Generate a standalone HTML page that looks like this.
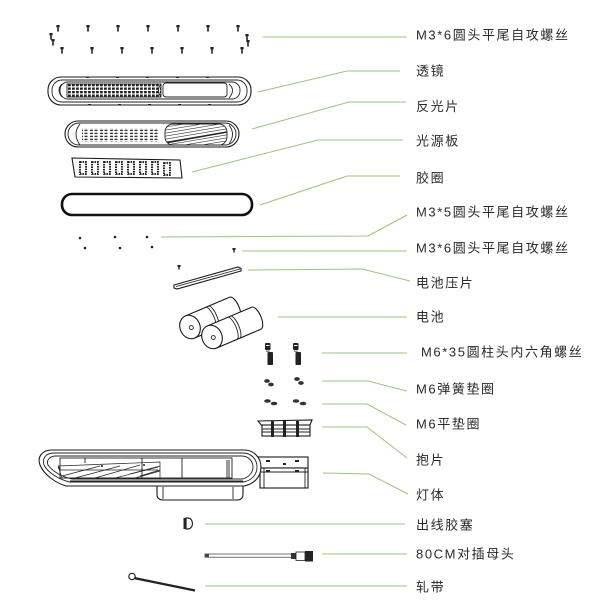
<!DOCTYPE html>
<html>
<head>
<meta charset="utf-8">
<style>
  html,body{margin:0;padding:0;background:#fff;}
  body{width:606px;height:609px;overflow:hidden;}
  svg{display:block;}
  .lbl{font-family:"Liberation Sans","Noto Sans CJK SC",sans-serif;font-size:13px;letter-spacing:1.6px;fill:#2a2a2a;}
  .ld{stroke:#9cc47c;stroke-width:1;fill:none;}
  .k{stroke:#222;fill:none;stroke-width:0.9;}
  .kw{stroke:#1a1a1a;fill:#fff;stroke-width:1.1;}
</style>
</head>
<body>
<svg width="606" height="609" viewBox="0 0 606 609" xmlns="http://www.w3.org/2000/svg">
  <defs>
    <pattern id="lg" width="4" height="3.5" patternUnits="userSpaceOnUse">
      <rect x="0" y="0" width="2.8" height="2.3" fill="#222"/>
    </pattern>
    <pattern id="rd" width="10" height="3" patternUnits="userSpaceOnUse">
      <rect x="0" y="0.7" width="3" height="1.4" fill="#333"/>
      <rect x="4.5" y="0.7" width="3" height="1.4" fill="#333"/>
    </pattern>
    <clipPath id="rh"><rect x="165" y="124" width="62" height="21" rx="8"/></clipPath>
    <g id="s1"><rect x="-1.6" y="0" width="3.2" height="2.4"/><rect x="-0.8" y="2.4" width="1.6" height="4.2"/></g>
  </defs>

  <!-- ============ leader lines ============ -->
  <polyline class="ld" points="263,37 407,37"/>
  <polyline class="ld" points="258,92 347,71 400,71"/>
  <polyline class="ld" points="252,129 349,102 406,102"/>
  <polyline class="ld" points="192,172 318,140 403,140"/>
  <polyline class="ld" points="260,205 347,176 400,176"/>
  <polyline class="ld" points="161,237 368,236 407,215"/>
  <polyline class="ld" points="242,251 407,251"/>
  <polyline class="ld" points="248,270 362,269 410,281"/>
  <polyline class="ld" points="278,317 407,317"/>
  <polyline class="ld" points="322,353 407,353"/>
  <polyline class="ld" points="322,381 368,381 407,391"/>
  <polyline class="ld" points="322,404 367,404 406,425"/>
  <polyline class="ld" points="322,427 367,427 407,458"/>
  <polyline class="ld" points="323,473 369,474 408,494"/>
  <polyline class="ld" points="205,524 405,524"/>
  <polyline class="ld" points="322,554 407,554"/>
  <polyline class="ld" points="205,586 407,586"/>

  <!-- ============ labels ============ -->
  <text class="lbl" x="416" y="39.5">M3*6圆头平尾自攻螺丝</text>
  <text class="lbl" x="416" y="75.5">透镜</text>
  <text class="lbl" x="416" y="111">反光片</text>
  <text class="lbl" x="416" y="145.5">光源板</text>
  <text class="lbl" x="416" y="182.5">胶圈</text>
  <text class="lbl" x="416" y="216.5">M3*5圆头平尾自攻螺丝</text>
  <text class="lbl" x="416" y="252.5">M3*6圆头平尾自攻螺丝</text>
  <text class="lbl" x="416" y="287.5">电池压片</text>
  <text class="lbl" x="416" y="321.5">电池</text>
  <text class="lbl" x="421" y="356.5">M6*35圆柱头内六角螺丝</text>
  <text class="lbl" x="416" y="393.5">M6弹簧垫圈</text>
  <text class="lbl" x="416" y="428.5">M6平垫圈</text>
  <text class="lbl" x="416" y="464.5">抱片</text>
  <text class="lbl" x="416" y="499.5">灯体</text>
  <text class="lbl" x="416" y="529.5">出线胶塞</text>
  <text class="lbl" x="416" y="558.5">80CM对插母头</text>
  <text class="lbl" x="416" y="591.5">轧带</text>

  <!-- ============ top screws ============ -->
  <g fill="#222">
    <use href="#s1" x="58" y="25"/><use href="#s1" x="88" y="25"/><use href="#s1" x="118" y="25"/>
    <use href="#s1" x="148" y="25"/><use href="#s1" x="178" y="25"/><use href="#s1" x="208" y="25"/>
    <use href="#s1" x="238" y="25"/>
    <use href="#s1" x="62" y="47"/><use href="#s1" x="92" y="47"/><use href="#s1" x="122" y="47"/>
    <use href="#s1" x="152" y="47"/><use href="#s1" x="182" y="47"/><use href="#s1" x="212" y="47"/>
    <use href="#s1" x="242" y="47"/>
    <use href="#s1" x="51" y="33"/><use href="#s1" x="53" y="39"/>
    <use href="#s1" x="247" y="34"/><use href="#s1" x="248" y="40"/>
  </g>

  <!-- ============ lens 透镜 ============ -->
  <rect class="kw" x="48" y="77" width="203" height="28" rx="13" stroke-width="1.3"/>
  <rect class="k" x="52" y="80" width="195" height="22" rx="10" stroke-width="0.7"/>
  <rect class="k" x="60" y="82" width="180" height="17" rx="8"/>
  <rect x="67" y="84" width="94" height="13" fill="url(#lg)"/>
  <rect class="k" x="67" y="84" width="94" height="13" stroke-width="0.7"/>
  <rect class="k" x="163" y="83" width="64" height="14" rx="3" stroke-width="1.1"/>
  <path class="k" d="M161,84 Q156,90 161,97"/>
  <path class="k" d="M229,84 Q236,90 229,98"/>
  <path class="k" d="M62,84 Q56,90 62,97"/>
  <g fill="#222">
    <rect x="86" y="76.5" width="3" height="1.5"/><rect x="116" y="76.5" width="3" height="1.5"/>
    <rect x="146" y="76.5" width="3" height="1.5"/><rect x="176" y="76.5" width="3" height="1.5"/>
    <rect x="206" y="76.5" width="3" height="1.5"/>
    <rect x="88" y="104" width="3" height="1.5"/><rect x="118" y="104" width="3" height="1.5"/>
    <rect x="148" y="104" width="3" height="1.5"/><rect x="178" y="104" width="3" height="1.5"/>
    <rect x="208" y="104" width="3" height="1.5"/>
  </g>

  <!-- ============ reflector 反光片 ============ -->
  <rect class="kw" x="65" y="121" width="174" height="26" rx="13" stroke-width="1.2"/>
  <rect class="k" x="68" y="123" width="168" height="22" rx="11" stroke-width="0.7"/>
  <path class="k" d="M80,124 Q72,134 80,145"/>
  <rect x="82" y="128" width="78" height="14" fill="url(#rd)"/>
  <rect class="k" x="165" y="124" width="62" height="21" rx="8"/>
  <g clip-path="url(#rh)" stroke="#333" stroke-width="0.6">
    <line x1="160" y1="128" x2="232" y2="116"/>
    <line x1="160" y1="131" x2="232" y2="119"/>
    <line x1="160" y1="134" x2="232" y2="122"/>
    <line x1="160" y1="137" x2="232" y2="125"/>
    <line x1="160" y1="140" x2="232" y2="128"/>
    <line x1="160" y1="143" x2="232" y2="131"/>
    <line x1="160" y1="146" x2="232" y2="134"/>
    <line x1="160" y1="149" x2="232" y2="137"/>
    <line x1="160" y1="152" x2="232" y2="140"/>
    <line x1="160" y1="155" x2="232" y2="143"/>
    <line x1="165" y1="143" x2="227" y2="132" stroke-width="1.6" stroke="#222"/>
  </g>
  <path class="k" d="M229,125 Q236,134 229,144"/>

  <!-- ============ light board 光源板 ============ -->
  <polygon class="kw" points="72,158 180,160 182,178 75,177"/>
  <g fill="none" stroke="#111" stroke-width="1.8" stroke-dasharray="1.6 0.9">
    <rect x="80" y="162" width="6" height="12"/>
    <rect x="92" y="162" width="6" height="12"/>
    <rect x="104" y="162" width="6" height="12"/>
    <rect x="116" y="162" width="6" height="12"/>
    <rect x="128" y="162" width="6" height="12"/>
    <rect x="140" y="162" width="6" height="12"/>
    <rect x="152" y="162" width="6" height="12"/>
    <rect x="164" y="163" width="6" height="12"/>
  </g>

  <!-- ============ gasket 胶圈 ============ -->
  <rect x="62" y="194" width="190" height="21" rx="10" fill="none" stroke="#111" stroke-width="2.6"/>

  <!-- ============ small screws ============ -->
  <g fill="#222">
    <circle cx="80" cy="238" r="1.3"/><circle cx="85" cy="248" r="1.3"/>
    <circle cx="115" cy="237" r="1.3"/><circle cx="120" cy="248" r="1.3"/>
    <circle cx="147" cy="237" r="1.3"/><circle cx="152" cy="247" r="1.3"/>
    <rect x="232.5" y="248" width="3" height="2"/><rect x="233.3" y="250" width="1.4" height="2.5"/>
    <rect x="177.5" y="265" width="3" height="2"/><rect x="178.3" y="267" width="1.4" height="2.5"/>
  </g>

  <!-- ============ battery plate 电池压片 ============ -->
  <polygon class="kw" points="174,285 238,267 241,268.5 241,271 177,289 174,288"/>
  <line class="k" x1="176" y1="286.5" x2="240" y2="269" stroke-width="0.6"/>

  <!-- ============ batteries 电池 ============ -->
  <g transform="translate(190,327) rotate(-23)">
    <path class="kw" d="M0,-12 L48,-12 A5,12 0 0 1 48,12 L0,12 Z"/>
    <path class="k" d="M22,-12 A4,12 0 0 1 22,12"/>
    <path class="k" d="M25,-12 A4,12 0 0 1 25,12" stroke-width="1.2"/>
    <ellipse class="kw" cx="0" cy="0" rx="10" ry="12"/>
    <circle class="k" cx="1" cy="1" r="2"/>
  </g>
  <g transform="translate(212,337) rotate(-23)">
    <path class="kw" d="M0,-12 L48,-12 A5,12 0 0 1 48,12 L0,12 Z"/>
    <path class="k" d="M22,-12 A4,12 0 0 1 22,12"/>
    <path class="k" d="M25,-12 A4,12 0 0 1 25,12" stroke-width="1.2"/>
    <ellipse class="kw" cx="0" cy="0" rx="10" ry="12"/>
    <circle class="k" cx="1" cy="1" r="2"/>
  </g>

  <!-- ============ M6*35 screws ============ -->
  <g fill="#222">
    <rect x="265" y="343" width="5.5" height="7" rx="1"/>
    <rect x="266" y="350.5" width="3.5" height="1.5" fill="#888"/>
    <rect x="267.5" y="352" width="5.5" height="13" rx="0.8"/>
    <rect x="293" y="343" width="5.5" height="7" rx="1"/>
    <rect x="294" y="350.5" width="3.5" height="1.5" fill="#888"/>
    <rect x="295.5" y="352" width="5.5" height="13" rx="0.8"/>
  </g>
  <g fill="#fff">
    <rect x="266" y="345" width="3.5" height="1"/>
    <rect x="294" y="345" width="3.5" height="1"/>
  </g>

  <!-- ============ spring washers ============ -->
  <g fill="#333">
    <ellipse cx="267" cy="381" rx="2.8" ry="1.9"/><ellipse cx="271" cy="384.5" rx="2.8" ry="1.9"/>
    <ellipse cx="297" cy="379" rx="2.8" ry="1.9"/><ellipse cx="301" cy="383" rx="2.8" ry="1.9"/>
  </g>
  <!-- ============ flat washers ============ -->
  <g fill="#333">
    <ellipse cx="267.5" cy="401" rx="3.3" ry="1.8"/><ellipse cx="274" cy="403.5" rx="3.3" ry="1.8"/>
    <ellipse cx="296" cy="401" rx="3.3" ry="1.8"/><ellipse cx="303" cy="403.5" rx="3.3" ry="1.8"/>
  </g>

  <!-- ============ hug piece 抱片 ============ -->
  <polygon class="kw" points="258,421 312,420 310,425 262,426"/>
  <rect class="kw" x="262" y="425" width="48" height="11"/>
  <line class="k" x1="262" y1="429" x2="310" y2="429"/>
  <line class="k" x1="262" y1="432" x2="310" y2="432"/>
  <g fill="#222">
    <rect x="271" y="421" width="3" height="16"/>
    <rect x="283" y="421" width="3" height="16"/>
    <rect x="296" y="421" width="3" height="16"/>
  </g>

  <!-- ============ lamp body 灯体 ============ -->
  <rect class="kw" x="252" y="457" width="56" height="11"/>
  <rect class="kw" x="260" y="468" width="48" height="20"/>
  <line class="k" x1="264" y1="468" x2="264" y2="488"/>
  <line class="k" x1="305" y1="468" x2="305" y2="488"/>
  <line class="k" x1="260" y1="472" x2="308" y2="472" stroke-width="0.5"/>
  <g fill="#222">
    <rect x="266" y="460" width="4" height="2"/><rect x="295" y="460" width="4" height="2"/>
    <rect x="266" y="470" width="4" height="2"/><rect x="295" y="470" width="4" height="2"/>
    <rect x="283" y="463" width="3" height="2"/>
  </g>
  <path class="kw" d="M157,484 L157,494 Q157,500 163,500 L237,500 Q243,500 243,494 L243,484"/>
  <line class="k" x1="163" y1="487" x2="163" y2="499"/>
  <line class="k" x1="233" y1="487" x2="233" y2="499"/>
  <path class="kw" d="M52,450 L244,450 C254,450 261,458 261,467 C261,477 254,484 244,486 L66,486 C56,483 44,475 40,465 C37,457 42,450 52,450 Z" stroke-width="1.3"/>
  <path class="k" d="M54,453 L243,453 C251,453 257,459 257,467 C257,475 251,481 243,482 L70,482 C60,480 48,473 44,465 C42,458 46,453 54,453 Z" stroke-width="0.7"/>
  <path class="k" d="M56,456 L242,456 C248,456 253,461 253,467 C253,473 248,478 242,479 L72,479 C62,477 52,471 48,465 C46,460 50,456 56,456 Z" stroke-width="0.6"/>
  <rect class="k" x="60" y="458" width="172" height="20"/>
  <line class="k" x1="85" y1="458" x2="85" y2="463"/>
  <line class="k" x1="142" y1="458" x2="142" y2="478"/>
  <line class="k" x1="182" y1="458" x2="182" y2="478"/>
  <line class="k" x1="227" y1="460" x2="227" y2="478"/>
  <line class="k" x1="229" y1="460" x2="229" y2="478"/>
  <line class="k" x1="70" y1="481" x2="243" y2="481" stroke-width="0.6"/>
  <g stroke="#222" stroke-width="0.7" fill="none">
    <polygon points="58,466 160,462 160,478 62,478"/>
    <line x1="62" y1="476" x2="100" y2="466"/>
    <line x1="75" y1="478" x2="120" y2="466"/>
    <line x1="95" y1="478" x2="140" y2="465"/>
    <line x1="115" y1="478" x2="158" y2="467"/>
    <line x1="135" y1="478" x2="160" y2="471"/>
    <line x1="130" y1="474" x2="160" y2="466"/>
    <line x1="140" y1="476" x2="160" y2="470"/>
    <line x1="60" y1="470" x2="158" y2="470"/>
  </g>
  <g fill="#222">
    <circle cx="59" cy="468" r="1"/><circle cx="102" cy="466" r="1"/><circle cx="144" cy="465" r="1"/>
  </g>

  <!-- ============ cable gland 出线胶塞 ============ -->
  <rect x="183.5" y="518" width="2.5" height="11" fill="#222"/>
  <path d="M186,518 h2 a4.5,5.5 0 0 1 0,11 h-2 z" fill="#fff" stroke="#222" stroke-width="1.2"/>

  <!-- ============ cable 80CM ============ -->
  <rect x="205" y="554" width="88" height="3.2" fill="#fff" stroke="#333" stroke-width="0.7"/>
  <rect x="205" y="554" width="4" height="3.2" fill="#444"/>
  <rect x="291" y="553" width="5" height="6" fill="#333"/>
  <rect x="296" y="552" width="9" height="8.5" fill="#fff" stroke="#222" stroke-width="0.8"/>
  <rect x="305" y="551" width="8" height="10.5" fill="#222"/>

  <!-- ============ cable tie 轧带 ============ -->
  <line x1="134" y1="578" x2="195" y2="590.5" stroke="#222" stroke-width="2.4"/>
  <line x1="150" y1="583" x2="192" y2="591.5" stroke="#fff" stroke-width="0.5"/>
  <circle cx="132" cy="576.5" r="3.2" fill="#fff" stroke="#222" stroke-width="1.2"/>
</svg>
</body>
</html>
